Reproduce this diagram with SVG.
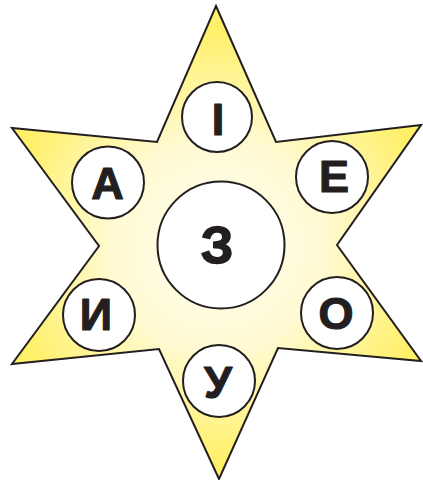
<svg xmlns="http://www.w3.org/2000/svg" width="423" height="480" viewBox="0 0 423 480">
<defs>
<radialGradient id="g" gradientUnits="userSpaceOnUse" cx="218" cy="245" r="215">
<stop offset="0" stop-color="#fffef4"/>
<stop offset="0.5" stop-color="#fffad2"/>
<stop offset="1" stop-color="#fff06a"/>
</radialGradient>
<style>
.c{fill:#fff;stroke:#231f20;stroke-width:2}
.t{font-family:"Liberation Sans",Arial,sans-serif;font-weight:bold;font-size:45px;fill:#231f20;stroke:#231f20;stroke-width:1.2;stroke-linejoin:round;text-anchor:middle}
</style>
</defs>
<g id="star">
<polygon points="216,6 276,142 421,125 337,245 421,361 278,348 219,479 159,349 12,364 99,246 12,128 157,142" fill="url(#g)" stroke="#231f20" stroke-width="2" stroke-linejoin="miter"/>
</g>
<g id="center">
<circle class="c" cx="221" cy="245" r="63.5"/>
<text class="t" x="217" y="263" style="font-size:52px;stroke-width:1.6">З</text>
</g>
<g id="n-i">
<circle class="c" cx="217" cy="117" r="35"/>
<text class="t" x="218" y="135">І</text>
</g>
<g id="n-e">
<circle class="c" cx="332" cy="177" r="36"/>
<text class="t" x="334" y="192">Е</text>
</g>
<g id="n-o">
<circle class="c" cx="337" cy="313" r="36"/>
<text class="t" x="336" y="329">О</text>
</g>
<g id="n-u">
<circle class="c" cx="219" cy="381" r="36"/>
<text class="t" x="218" y="398">У</text>
</g>
<g id="n-y">
<circle class="c" cx="99" cy="315" r="36"/>
<text class="t" x="96" y="330">И</text>
</g>
<g id="n-a">
<circle class="c" cx="108" cy="182.5" r="36"/>
<text class="t" x="107.5" y="199">А</text>
</g>
<g id="connectors"></g>
</svg>
